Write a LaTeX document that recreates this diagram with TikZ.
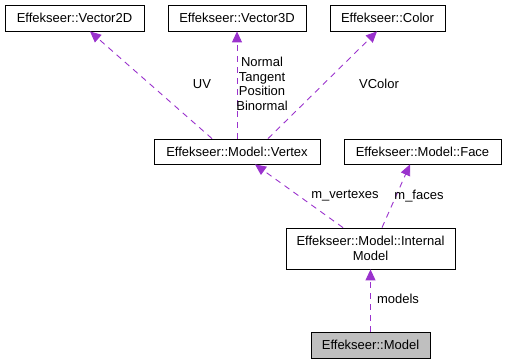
\documentclass[tikz,border=0pt]{standalone}
\usepackage{fontspec}
\setmainfont{Liberation Sans}
\usetikzlibrary{arrows.meta}
\definecolor{edgepurple}{HTML}{9A32CD}
\definecolor{focusgray}{HTML}{BFBFBF}
\begin{document}
\begin{tikzpicture}[x=1pt,y=-1pt,
  cls/.style={draw=black,line width=0.8pt,fill=white,inner sep=0pt,font=\fontsize{13}{14.7}\selectfont,align=center},
  rel/.style={draw=edgepurple,line width=0.9pt,dash pattern=on 6pt off 5pt,-{Triangle[length=11pt,width=10pt,fill=edgepurple]}},
  lbl/.style={font=\fontsize{13}{14.7}\selectfont,inner sep=0pt,align=center}]
\useasboundingbox (0,0) rectangle (506,364);
% classes
\node[cls,minimum width=139pt,minimum height=26pt] (v2) at (74.5,18) {Effekseer::Vector2D};
\node[cls,minimum width=138pt,minimum height=26pt] (v3) at (237,18) {Effekseer::Vector3D};
\node[cls,minimum width=115pt,minimum height=26pt] (col) at (387.5,18) {Effekseer::Color};
\node[cls,minimum width=166pt,minimum height=25pt] (vtx) at (237,151.5) {Effekseer::Model::Vertex};
\node[cls,minimum width=157pt,minimum height=25pt] (face) at (422.5,151.5) {Effekseer::Model::Face};
\node[cls,minimum width=169pt,minimum height=41pt] (im) at (370.5,248.5) {Effekseer::Model::Internal\\Model};
\node[cls,fill=focusgray,minimum width=119pt,minimum height=26pt] (mdl) at (370.5,345) {Effekseer::Model};
% member relations
\draw[rel] (vtx.north -| 212,0) -- (v2.south -| 90,0);
\draw[rel] (vtx.north) -- (v3.south);
\draw[rel] (vtx.north -| 268,0) -- (col.south -| 377,0);
\draw[rel] (im.north -| 343,0) -- (vtx.south -| 255,0);
\draw[rel] (im.north -| 382,0) -- (face.south -| 410,0);
\draw[rel] (mdl.north) -- (im.south);
% labels
\node[lbl] (luv) at (202,84) {UV};
\node[lbl] (lv3) at (262,84) {Normal\\Tangent\\Position\\Binormal};
\node[lbl] (lcol) at (379,84) {VColor};
\node[lbl] (lvx) at (345,196) {m\_vertexes};
\node[lbl] (lfc) at (419,196) {m\_faces};
\node[lbl] (lmd) at (398,299) {models};
\end{tikzpicture}
\end{document}
